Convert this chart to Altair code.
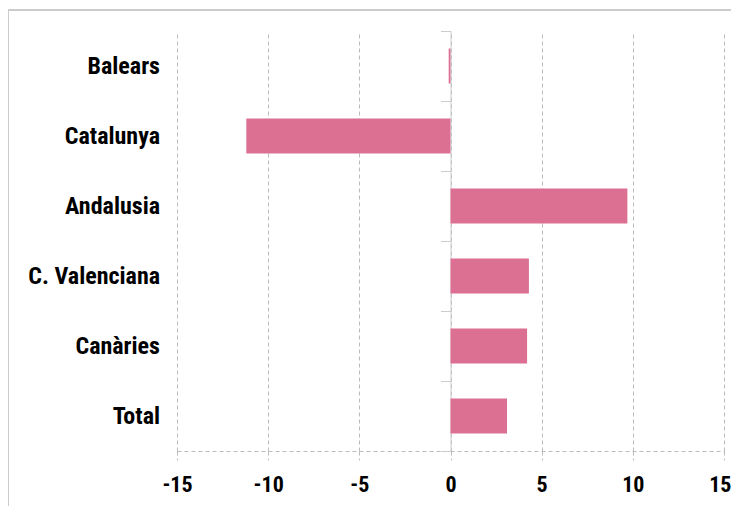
import altair as alt
import pandas as pd

regions = ["Balears", "Catalunya", "Andalusia", "C. Valenciana", "Canàries", "Total"]
values = [-0.1, -11.2, 9.7, 4.3, 4.2, 3.1]
x_ticks = [-15, -10, -5, 0, 5, 10, 15]

df = pd.DataFrame({"region": regions, "value": values})
FONT = ("Noto Sans ExtraCondensed, Noto Sans Condensed, Roboto Condensed, "
        "Liberation Sans Narrow, DejaVu Sans Condensed, sans-serif")

bars = alt.Chart(df).mark_bar(
    color="#DB7093", height=alt.RelativeBandSize(band=0.5)
).encode(
    x=alt.X(
        "value:Q",
        scale=alt.Scale(domain=[-15, 15], nice=False, zero=False),
        axis=alt.Axis(
            values=x_ticks, title=None, grid=True, gridDash=[4, 3], gridColor="#bbbbbb",
            domainDash=[4, 3], domainColor="#bbbbbb", tickDash=[4, 3], tickColor="#bbbbbb",
            tickSize=9, labelFont=FONT, labelFontSize=22, labelFontWeight="bold",
            labelColor="#000000", labelPadding=14, labelExpr="'' + datum.value",
            labelFlush=False,
            labelAlign=alt.condition("datum.value == 15", alt.value("right"), alt.value("center")),
            labelOffset=alt.condition("datum.value == 15", alt.value(7), alt.value(0)),
        ),
    ),
    y=alt.Y(
        "region:N", sort=regions,
        scale=alt.Scale(paddingInner=0, paddingOuter=0),
        axis=alt.Axis(
            title=None, grid=False, offset=-273.5, domainColor="#cccccc",
            tickColor="#cccccc", tickSize=10, tickBand="extent",
            labelFont=FONT, labelFontSize=24, labelFontWeight="bold",
            labelColor="#000000", labelPadding=281,
        ),
    ),
)

frame = alt.Chart(df).mark_rect(fill=None, stroke="#cccccc", strokeWidth=2, clip=False).encode(
    x=alt.value(-169), x2=alt.value(700), y=alt.value(-21), y2=alt.value(600)
)

chart = alt.layer(frame, bars).properties(
    width=547, height=420,
    autosize=alt.AutoSizeParams(type="none"),
    padding={"left": 169, "top": 23, "right": 7, "bottom": 55},
).configure_view(stroke=None)

chart.save("out.html", embed_options={"renderer": "svg", "actions": False})
